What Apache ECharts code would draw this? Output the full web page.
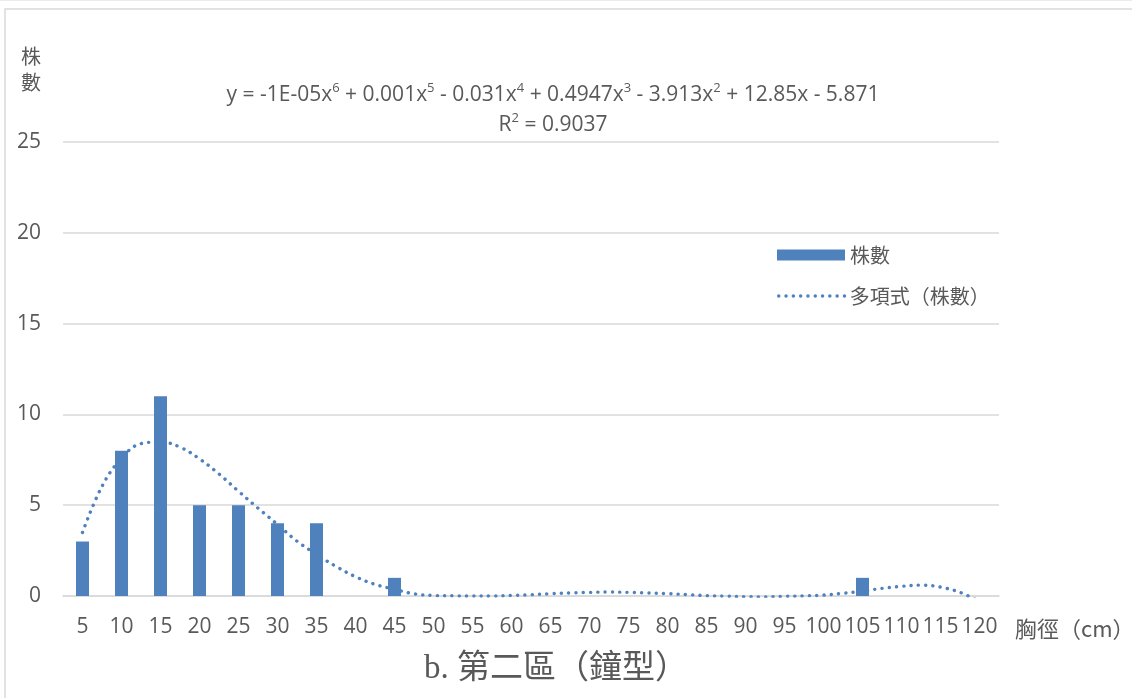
<!DOCTYPE html>
<html>
<head>
<meta charset="utf-8">
<title>第二區胸徑分布</title>
<script src="https://cdn.jsdelivr.net/npm/echarts@6/dist/echarts.min.js"></script>
<style>
  html, body { margin: 0; padding: 0; background: #ffffff; }
  #chart { width: 1132px; height: 698px; }
</style>
</head>
<body>
<div id="chart"></div>
<script>
// 胸徑級距 (cm)
const diameterClasses = ['5','10','15','20','25','30','35','40','45','50','55','60',
  '65','70','75','80','85','90','95','100','105','110','115','120'];
// 各級株數
const treeCounts = [3, 8, 11, 5, 5, 4, 4, 0, 1, 0, 0, 0,
  0, 0, 0, 0, 0, 0, 0, 0, 1, 0, 0, 0];
// 多項式趨勢線 (讀取點: 胸徑, 株數)
const trendDiameters = [5, 7.5, 10, 12.5, 15, 17.5, 20, 22.5, 25, 27.5, 30, 32.5,
  35, 37.5, 40, 42.5, 45, 47.5, 50, 52.5, 55, 57.5, 60, 62.5, 65, 67.5, 70, 72.5,
  75, 77.5, 80, 82.5, 85, 87.5, 90, 92.5, 95, 97.5, 100, 102.5, 105, 107.5, 110,
  112.5, 115, 117.5, 120];
const trendCounts = [3.5, 6.04, 7.58, 8.39, 8.48, 8.2, 7.55, 6.72, 5.77, 4.84, 3.94, 3.02,
  2.29, 1.63, 1.06, 0.64, 0.37, 0.12, 0.03, 0.01, 0, 0, 0.03, 0.07, 0.13, 0.17, 0.2, 0.22,
  0.2, 0.17, 0.13, 0.08, 0.02, -0.01, -0.04, -0.05, -0.02, 0.01, 0.05, 0.15, 0.27, 0.42, 0.53,
  0.6, 0.49, 0.2, -0.3];
// 縱軸刻度
const countTicks = { min: 0, max: 25, interval: 5 };

const textGray = '#595959';
const gridGray = '#d9d9d9';
const barBlue = '#4f81bd';
const numFont = '"Open Sans", "Liberation Sans", sans-serif';
const cjkFont = '"Noto Sans CJK TC", "Noto Sans CJK SC", sans-serif';
const serifFont = '"Liberation Serif", "DejaVu Serif", "Noto Sans CJK TC", serif';

// 點狀虛線樣式 (趨勢線與圖例共用)
const dottedLine = { color: barBlue, width: 3.4, type: [0.1, 7.2], cap: 'round' };

const chart = echarts.init(document.getElementById('chart'), null, { renderer: 'canvas' });

const eqStyle = { fontSize: 21, lineHeight: 26, fontWeight: 'normal', color: textGray, fontFamily: numFont };
const supStyle = { fontSize: 13, lineHeight: 14, fontWeight: 'normal', color: textGray, fontFamily: numFont, verticalAlign: 'top' };

chart.setOption({
  animation: false,
  backgroundColor: '#ffffff',
  title: [
    {
      text: '{b|y = -1E-05x}{s|6}{b| + 0.001x}{s|5}{b| - 0.031x}{s|4}{b| + 0.4947x}{s|3}{b| - 3.913x}{s|2}{b| + 12.85x - 5.871}',
      left: 553, top: 82, textAlign: 'center', padding: 0,
      textStyle: { fontWeight: 'normal', rich: { b: eqStyle, s: supStyle } }
    },
    {
      text: '{b|R}{s|2}{b| = 0.9037}',
      left: 553, top: 112, textAlign: 'center', padding: 0,
      textStyle: { fontWeight: 'normal', rich: { b: eqStyle, s: supStyle } }
    },
    {
      text: 'b. 第二區（鐘型）',
      left: 556, top: 650, textAlign: 'center', padding: 0,
      textStyle: { fontSize: 33, lineHeight: 38, fontWeight: 'normal', color: textGray, fontFamily: serifFont }
    }
  ],
  legend: [
    {
      data: [{ name: '株數', icon: 'rect' }],
      left: 777, top: 244, padding: 0, itemWidth: 68, itemHeight: 11,
      textStyle: { fontSize: 20, lineHeight: 22, color: textGray, fontFamily: cjkFont }
    },
    {
      data: [{ name: '多項式（株數）', itemStyle: { opacity: 0 } }],
      left: 777, top: 285, padding: 0, itemWidth: 66, itemHeight: 11,
      lineStyle: dottedLine,
      textStyle: { fontSize: 20, lineHeight: 22, color: textGray, fontFamily: cjkFont }
    }
  ],
  grid: { left: 63, right: 133, top: 142, bottom: 102, containLabel: false, outerBoundsMode: 'none' },
  xAxis: [
    {
      type: 'category',
      data: diameterClasses,
      boundaryGap: true,
      name: '胸徑（cm）',
      nameLocation: 'end',
      nameGap: 16,
      nameTextStyle: { fontSize: 22, lineHeight: 24, color: textGray, fontFamily: cjkFont,
        align: 'left', verticalAlign: 'top', padding: [21, 0, 0, 0] },
      axisLine: { show: true, lineStyle: { color: gridGray, width: 1.5 } },
      axisTick: { show: false },
      axisLabel: { interval: 0, margin: 21, fontSize: 21, color: textGray, fontFamily: numFont },
      splitLine: { show: false }
    },
    {
      type: 'value',
      show: false,
      min: 2.5,
      max: 122.5,
      splitLine: { show: false }
    }
  ],
  yAxis: {
    type: 'value',
    min: countTicks.min,
    max: countTicks.max,
    interval: countTicks.interval,
    name: '株\n數',
    nameLocation: 'end',
    nameGap: 47,
    nameTextStyle: { fontSize: 20, lineHeight: 26, color: textGray, fontFamily: cjkFont,
      align: 'right', padding: [0, 22, 0, 0] },
    axisLine: { show: false },
    axisTick: { show: false },
    axisLabel: { margin: 22, fontSize: 21, color: textGray, fontFamily: numFont },
    splitLine: { show: true, lineStyle: { color: gridGray, width: 1.5 } }
  },
  series: [
    {
      name: '株數',
      type: 'bar',
      data: treeCounts,
      barWidth: 13,
      itemStyle: { color: barBlue },
      z: 2
    },
    {
      name: '多項式（株數）',
      type: 'line',
      xAxisIndex: 1,
      yAxisIndex: 0,
      data: trendDiameters.map((d, i) => [d, trendCounts[i]]),
      smooth: 0.4,
      showSymbol: false,
      symbol: 'none',
      clip: true,
      lineStyle: dottedLine,
      itemStyle: { color: barBlue },
      z: 3
    }
  ],
  graphic: [
    {
      type: 'rect',
      silent: true,
      shape: { x: 5, y: 9, width: 1140, height: 700 },
      style: { fill: 'none', stroke: gridGray, lineWidth: 1.5 }
    },
    {
      type: 'line',
      silent: true,
      shape: { x1: 0, y1: 0.5, x2: 1132, y2: 0.5 },
      style: { stroke: '#ececec', lineWidth: 1 }
    }
  ]
});
</script>
</body>
</html>
